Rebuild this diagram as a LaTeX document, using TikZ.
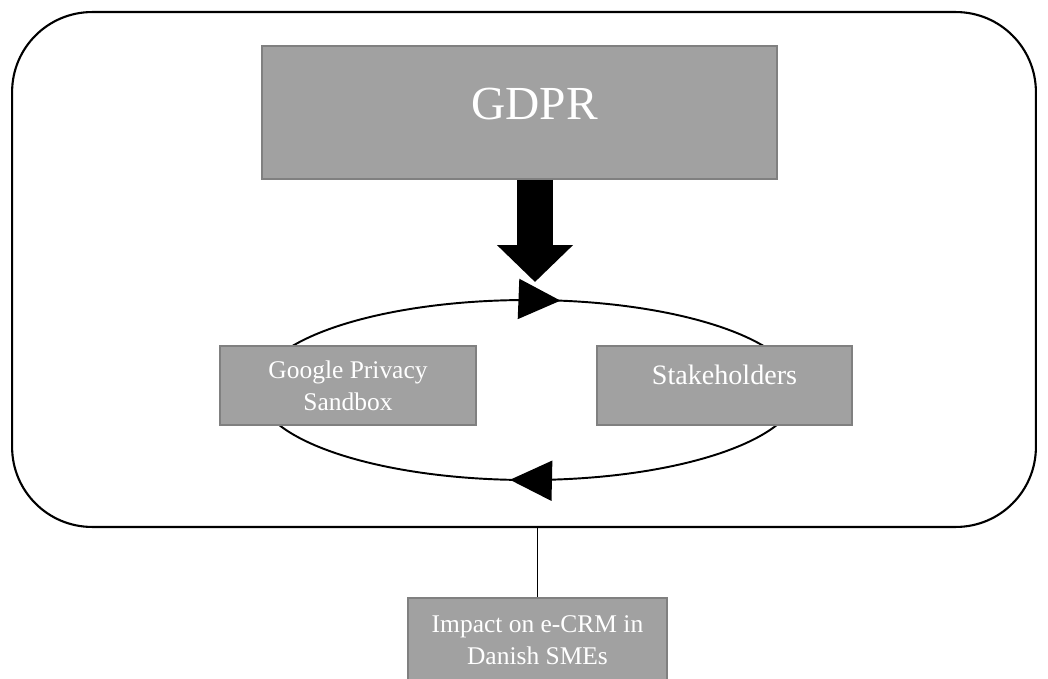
\documentclass[tikz,border=0pt]{standalone}
\usepackage{fontspec}
\setmainfont{Liberation Serif}
\usetikzlibrary{positioning,arrows.meta,calc,decorations.markings}

\begin{document}
\begin{tikzpicture}[
  x=0.02cm, y=-0.02cm,
  every node/.style={font=\fontsize{14.5}{18}\selectfont},
  grey box/.style={draw=black!50, line width=0.9pt, fill=black!37, text=white, inner sep=0pt, align=center},
  frame box/.style={draw, line width=1.2pt, rounded corners=1.6cm, inner sep=0pt},
  big arrow/.style={line width=0.72cm, -{Triangle[length=0.74cm, width=1.48cm]}},
  cycle edge/.style={draw, line width=1.1pt, postaction={decorate}, decoration={markings,
    mark=at position 0.265 with {\arrow{Triangle[length=0.84cm, width=0.8cm]}},
    mark=at position 0.777 with {\arrow{Triangle[length=0.84cm, width=0.8cm]}}}}
]
  \useasboundingbox (0,0) rectangle (1048,679);

  \node[frame box, minimum width=20.48cm, minimum height=10.3cm] (frame) at (524,269.5) {};

  \node[grey box, minimum width=10.3cm, minimum height=2.66cm, text depth=0.36cm, font=\fontsize{27}{30}\selectfont] (gdpr) at (519.5,112.5) {\hspace*{0.6cm}GDPR};

  \coordinate (tip) at (535,282);
  \draw[big arrow] (gdpr.south -| tip) -- (tip);

  \path[cycle edge] (528,390) ellipse [x radius=270, y radius=90];

  \node[grey box, minimum width=5.12cm, minimum height=1.58cm] (gps) at (348,385.5) {Google Privacy\\Sandbox};
  \node[grey box, minimum width=5.1cm, minimum height=1.58cm, text depth=0.42cm, font=\fontsize{16}{18}\selectfont] (stake) at (724.5,385.5) {Stakeholders};

  \node[grey box, minimum width=5.18cm, minimum height=1.9cm, text depth=0.23cm] (impact) at (537.5,645.5) {Impact on e-CRM in\\Danish SMEs};

  \draw[line width=0.6pt] (frame.south -| impact.north) -- (impact.north);
\end{tikzpicture}
\end{document}
